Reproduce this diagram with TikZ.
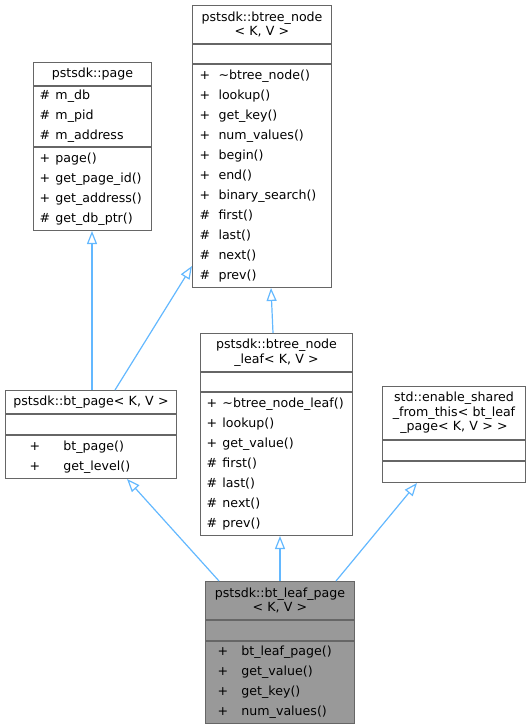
\documentclass[tikz,border=0pt]{standalone}
\usepackage{fontspec}
\setmainfont{DejaVu Sans}
\usetikzlibrary{positioning,arrows.meta}
\definecolor{boxgray}{HTML}{666666}
\definecolor{focusgray}{HTML}{999999}
\definecolor{edgeblue}{HTML}{63B8FF}
\newlength{\mpad}
\newlength{\mgap}
\newcommand{\mem}[2]{\hspace*{\mpad}\makebox[\mgap][l]{#1}#2}

\begin{document}
\begin{tikzpicture}[x=1pt,y=-1pt,>={Triangle[open,length=13pt,width=10pt]},
                    inherit/.style={->,draw=edgeblue,line width=1.2pt},
                    part/.style={draw=boxgray,line width=1pt,inner sep=0pt,minimum width=#1,text width=#1},
                    title/.style={part=#1,align=center,font=\fontsize{12.6}{14.5}\selectfont},
                    members/.style n args={3}{part=#1,align=left,font=\fontsize{12.6}{20}\selectfont,
                      execute at begin node={\setlength{\mpad}{#2}\setlength{\mgap}{#3}}}]

  \useasboundingbox (0,0) rectangle (530,727);

  % pstsdk::page
  \node[title=118pt,minimum height=23pt,anchor=north west] (pagetitle) at (33,62) {pstsdk::page};
  \node[members={118pt}{6pt}{16pt},minimum height=60pt,below=0pt of pagetitle] (pageattr)
    {\mem{\#}{m\_db}\\ \mem{\#}{m\_pid}\\ \mem{\#}{m\_address}};
  \node[members={118pt}{6pt}{16pt},minimum height=83pt,below=0pt of pageattr] (pageops)
    {\mem{+}{page()}\\ \mem{+}{get\_page\_id()}\\ \mem{+}{get\_address()}\\ \mem{\#}{get\_db\_ptr()}};

  % pstsdk::btree_node
  \node[title=139pt,minimum height=38pt,anchor=north west] (btnodetitle) at (192,5)
    {pstsdk::btree\_node\\ < K, V >};
  \node[part=139pt,minimum height=19pt,below=0pt of btnodetitle] (btnodeattr) {};
  \node[members={139pt}{7pt}{19pt},minimum height=223pt,below=0pt of btnodeattr] (btnodeops)
    {\mem{+}{\textasciitilde btree\_node()}\\ \mem{+}{lookup()}\\ \mem{+}{get\_key()}\\
     \mem{+}{num\_values()}\\ \mem{+}{begin()}\\ \mem{+}{end()}\\ \mem{+}{binary\_search()}\\
     \mem{\#}{first()}\\ \mem{\#}{last()}\\ \mem{\#}{next()}\\ \mem{\#}{prev()}};

  % pstsdk::bt_page
  \node[title=171pt,minimum height=23pt,anchor=north west] (btpagetitle) at (5,390)
    {pstsdk::bt\_page< K, V >};
  \node[part=171pt,minimum height=20pt,below=0pt of btpagetitle] (btpageattr) {};
  \node[members={171pt}{24pt}{34pt},minimum height=43pt,below=0pt of btpageattr] (btpageops)
    {\mem{+}{bt\_page()}\\ \mem{+}{get\_level()}};

  % pstsdk::btree_node_leaf
  \node[title=152pt,minimum height=38pt,anchor=north west] (btleaftitle) at (200,333)
    {pstsdk::btree\_node\\ \_leaf< K, V >};
  \node[part=152pt,minimum height=19pt,below=0pt of btleaftitle] (btleafattr) {};
  \node[members={152pt}{6pt}{16pt},minimum height=143pt,below=0pt of btleafattr] (btleafops)
    {\mem{+}{\textasciitilde btree\_node\_leaf()}\\ \mem{+}{lookup()}\\ \mem{+}{get\_value()}\\
     \mem{\#}{first()}\\ \mem{\#}{last()}\\ \mem{\#}{next()}\\ \mem{\#}{prev()}};

  % std::enable_shared_from_this
  \node[title=143pt,minimum height=53pt,anchor=north west] (sharedtitle) at (382,386)
    {std::enable\_shared\\ \_from\_this< bt\_leaf\\ \_page< K, V > >};
  \node[part=143pt,minimum height=20pt,below=0pt of sharedtitle] (sharedattr) {};
  \node[part=143pt,minimum height=21pt,below=0pt of sharedattr] (sharedops) {};

  % pstsdk::bt_leaf_page
  \node[title=149pt,fill=focusgray,minimum height=38pt,anchor=north west] (leaftitle) at (205,581)
    {pstsdk::bt\_leaf\_page\\ < K, V >};
  \node[part=149pt,fill=focusgray,minimum height=20pt,below=0pt of leaftitle] (leafattr) {};
  \node[members={149pt}{12pt}{24pt},fill=focusgray,minimum height=82pt,below=0pt of leafattr] (leafops)
    {\mem{+}{bt\_leaf\_page()}\\ \mem{+}{get\_value()}\\ \mem{+}{get\_key()}\\ \mem{+}{num\_values()}};

  % inheritance
  \draw[inherit] ([xshift=87pt]btpagetitle.north west) -- ([xshift=59pt]pageops.south west);
  \draw[inherit] ([xshift=110pt]btpagetitle.north west) -- ([yshift=22pt]btnodeops.south west);
  \draw[inherit] ([xshift=73pt]btleaftitle.north west) -- ([xshift=79pt]btnodeops.south west);
  \draw[inherit] ([xshift=14pt]leaftitle.north west) -- ([xshift=122pt]btpageops.south west);
  \draw[inherit] ([xshift=75pt]leaftitle.north west) -- ([xshift=80pt]btleafops.south west);
  \draw[inherit] ([xshift=131pt]leaftitle.north west) -- ([xshift=35pt]sharedops.south west);
\end{tikzpicture}
\end{document}
